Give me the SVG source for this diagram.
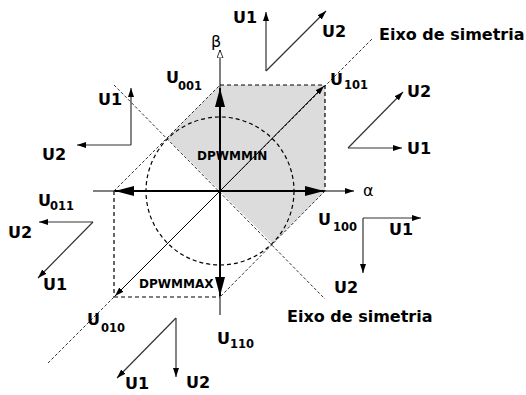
<svg xmlns="http://www.w3.org/2000/svg" width="526" height="395" viewBox="0 0 526 395">
<style>
.lbl{font-family:"DejaVu Sans",Verdana,sans-serif;font-weight:bold;font-size:16px;fill:#000}
.sub{font-family:"DejaVu Sans",Verdana,sans-serif;font-weight:bold;font-size:11.5px;fill:#000}
.dp{font-family:"DejaVu Sans",Verdana,sans-serif;font-weight:bold;font-size:12px;fill:#000}
.gr{font-family:"DejaVu Sans",sans-serif;font-size:16px;fill:#000}
.vec{stroke:#000;stroke-width:2;fill:none}
.thin{stroke:#000;stroke-width:1;fill:none}
.small{stroke:#333;stroke-width:1.2;fill:none}
.hex{stroke:#000;stroke-width:1.2;fill:none;stroke-dasharray:4 3}
.fine{stroke:#000;stroke-width:0.8;fill:none;stroke-dasharray:3 2}
</style>
<defs>
<marker id="big" markerUnits="userSpaceOnUse" markerWidth="20" markerHeight="12" refX="19" refY="5" orient="auto"><path d="M0,0 L19,5 L0,10 z" fill="#000"/></marker>
<marker id="sm" markerUnits="userSpaceOnUse" markerWidth="10" markerHeight="8" refX="9" refY="3" orient="auto"><path d="M0,0 L9,3 L0,6 z" fill="#000"/></marker>
<marker id="open" markerUnits="userSpaceOnUse" markerWidth="10" markerHeight="8" refX="8" refY="3" orient="auto"><path d="M0,0 L8,3 L0,6 z" fill="#fff" stroke="#000" stroke-width="0.8"/></marker>
</defs>
<g id="region-dpwmmin">
<polygon points="167,138 220,85 325,85 325,191 272.5,243.5" fill="#dcdcdc"/>
</g>
<g id="connectors">
<line class="hex" x1="220" y1="85" x2="325" y2="85"/>
<line class="hex" x1="325" y1="85" x2="325" y2="191"/>
<line class="hex" x1="114" y1="297" x2="220" y2="297"/>
<line class="hex" x1="114" y1="191" x2="114" y2="297"/>
<line class="fine" x1="114" y1="191" x2="220" y2="85"/>
<line class="fine" x1="325" y1="191" x2="220" y2="297"/>
<circle class="hex" cx="220" cy="191" r="74"/>
<line class="fine" x1="48" y1="363" x2="372" y2="39"/>
<line class="fine" x1="114" y1="85" x2="325" y2="299"/>
<line class="thin" x1="93" y1="191" x2="354" y2="191" marker-end="url(#sm)"/>
<line class="thin" x1="220" y1="315" x2="220" y2="50" marker-end="url(#open)"/>
<line class="vec" x1="220" y1="191" x2="220" y2="88" marker-end="url(#big)"/>
<line class="vec" x1="220" y1="191" x2="324" y2="191" marker-end="url(#big)"/>
<line class="vec" x1="220" y1="191" x2="115" y2="191" marker-end="url(#big)"/>
<line class="vec" x1="220" y1="191" x2="220" y2="296" marker-end="url(#big)"/>
<line class="thin" x1="220" y1="191" x2="324" y2="86" marker-end="url(#sm)"/>
<line class="thin" x1="220" y1="191" x2="115" y2="296" marker-end="url(#sm)"/>
<line class="small" x1="266" y1="71" x2="266" y2="12" marker-end="url(#sm)"/>
<line class="small" x1="266" y1="71" x2="326" y2="11" marker-end="url(#sm)"/>
<line class="small" x1="348" y1="148" x2="403" y2="92" marker-end="url(#sm)"/>
<line class="small" x1="348" y1="148" x2="402" y2="148" marker-end="url(#sm)"/>
<line class="small" x1="363" y1="218" x2="421" y2="218" marker-end="url(#sm)"/>
<line class="small" x1="363" y1="218" x2="363" y2="273" marker-end="url(#sm)"/>
<line class="small" x1="131" y1="145" x2="131" y2="88" marker-end="url(#sm)"/>
<line class="small" x1="131" y1="145" x2="77" y2="145" marker-end="url(#sm)"/>
<line class="small" x1="93" y1="222" x2="39" y2="222" marker-end="url(#sm)"/>
<line class="small" x1="93" y1="222" x2="38" y2="278" marker-end="url(#sm)"/>
<line class="small" x1="176" y1="318" x2="117" y2="378" marker-end="url(#sm)"/>
<line class="small" x1="176" y1="318" x2="176" y2="377" marker-end="url(#sm)"/>
</g>
<g id="axis-beta"><text class="gr" x="211" y="47">β</text></g>
<g id="axis-alpha"><text class="gr" x="363" y="196">α</text></g>
<g id="v-U001"><text class="lbl" x="166" y="83">U</text><text class="sub" x="178" y="90">001</text></g>
<g id="v-U101"><text class="lbl" x="330" y="85">U</text><text class="sub" x="344" y="89">101</text></g>
<g id="v-U100"><text class="lbl" x="318" y="225">U</text><text class="sub" x="333" y="231">100</text></g>
<g id="v-U011"><text class="lbl" x="38" y="206">U</text><text class="sub" x="50" y="210">011</text></g>
<g id="v-U010"><text class="lbl" x="87" y="325">U</text><text class="sub" x="101" y="332">010</text></g>
<g id="v-U110"><text class="lbl" x="217" y="344">U</text><text class="sub" x="230" y="348">110</text></g>
<g id="lbl-dpwmmin"><text class="dp" x="197" y="160">DPWMMIN</text></g>
<g id="lbl-dpwmmax"><text class="dp" x="139" y="288">DPWMMAX</text></g>
<g id="eixo-1"><text class="lbl" x="379" y="40">Eixo de simetria</text></g>
<g id="eixo-2"><text class="lbl" x="287" y="322">Eixo de simetria</text></g>
<g id="uv-top"><text class="lbl" x="233" y="23">U1</text><text class="lbl" x="322" y="37">U2</text></g>
<g id="uv-right-top"><text class="lbl" x="407" y="97">U2</text><text class="lbl" x="407" y="154">U1</text></g>
<g id="uv-right"><text class="lbl" x="389" y="235">U1</text><text class="lbl" x="334" y="293">U2</text></g>
<g id="uv-left-top"><text class="lbl" x="98" y="105">U1</text><text class="lbl" x="42" y="160">U2</text></g>
<g id="uv-left"><text class="lbl" x="8" y="238">U2</text><text class="lbl" x="43" y="290">U1</text></g>
<g id="uv-bottom"><text class="lbl" x="125" y="389">U1</text><text class="lbl" x="186" y="388">U2</text></g>
</svg>
